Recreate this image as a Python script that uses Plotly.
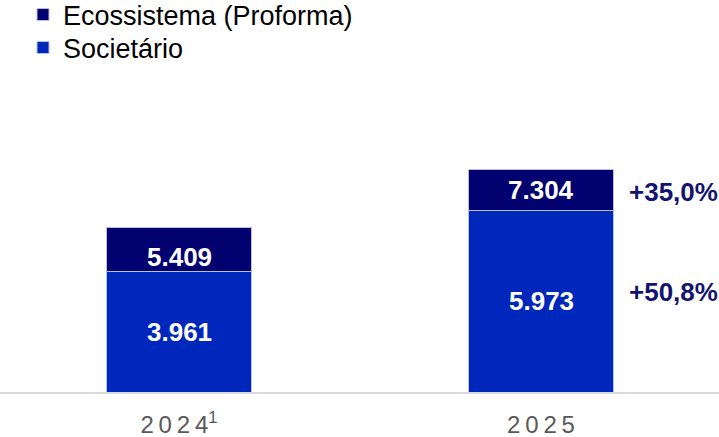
import plotly.graph_objects as go

# Data (values shown with "." as thousands separator)
years = ["2024", "2025"]
year_labels = ["2\u20090\u20092\u20094<sup>1</sup>", "2\u20090\u20092\u20095"]
societario = [3961, 5973]
ecossistema_total = [5409, 7304]

# Stacked segment on top of Societário
ecossistema_extra = [t - s for t, s in zip(ecossistema_total, societario)]

DARK = "#03016F"
BLUE = "#0027BC"
EDGE = "#B8C0E0"
FONT = "Liberation Sans, Arial, sans-serif"
idx = list(range(len(years)))


def fmt_thousands(v):
    return f"{v:,}".replace(",", ".")


def fmt_growth(new, old):
    return "+" + f"{(new / old - 1) * 100:.1f}".replace(".", ",") + "%"


fig = go.Figure()
fig.add_trace(go.Bar(
    x=idx, y=societario, name="Societário",
    marker=dict(color=BLUE, line=dict(color=EDGE, width=1)),
    width=0.40, hoverinfo="skip", legend="legend2",
))
fig.add_trace(go.Bar(
    x=idx, y=ecossistema_extra, name="Ecossistema (Proforma)",
    marker=dict(color=DARK, line=dict(color=EDGE, width=1)),
    width=0.40, hoverinfo="skip", legend="legend",
))

annotations = []
label_font = dict(family=FONT, size=26, color="white")
top_shift = [-8, 0]
for i in idx:
    annotations.append(dict(
        x=i, y=societario[i] / 2, text=f"<b>{fmt_thousands(societario[i])}</b>",
        showarrow=False, font=label_font, xref="x", yref="y",
    ))
    annotations.append(dict(
        x=i, y=(societario[i] + ecossistema_total[i]) / 2,
        text=f"<b>{fmt_thousands(ecossistema_total[i])}</b>",
        showarrow=False, font=label_font, xref="x", yref="y", yshift=top_shift[i],
    ))

growth_font = dict(family=FONT, size=26, color="#14146E")
annotations.append(dict(
    x=1, y=(societario[1] + ecossistema_total[1]) / 2,
    text=f"<b>{fmt_growth(ecossistema_total[1], ecossistema_total[0])}</b>",
    showarrow=False, font=growth_font, xref="x", yref="y",
    xanchor="left", xshift=86, yshift=-2,
))
annotations.append(dict(
    x=1, y=societario[1] / 2,
    text=f"<b>{fmt_growth(societario[1], societario[0])}</b>",
    showarrow=False, font=growth_font, xref="x", yref="y",
    xanchor="left", xshift=86, yshift=9,
))

legend_style = dict(
    x=0.032, xanchor="left", yanchor="middle", yref="container",
    font=dict(family=FONT, size=27, color="black"),
    bgcolor="rgba(0,0,0,0)", itemclick=False, itemdoubleclick=False,
)

fig.update_layout(
    width=719, height=437,
    margin=dict(l=0, r=0, t=0, b=45, autoexpand=False),
    barmode="stack",
    plot_bgcolor="white", paper_bgcolor="white",
    font=dict(family=FONT),
    showlegend=True,
    legend=dict(y=1 - 15 / 437, **legend_style),
    legend2=dict(y=1 - 48 / 437, **legend_style),
    annotations=annotations,
    xaxis=dict(
        range=[-0.4945, 1.4917],
        tickmode="array", tickvals=idx, ticktext=year_labels,
        showline=True, linecolor="#D9D9D9", linewidth=2,
        ticks="", showgrid=False, zeroline=False,
        tickfont=dict(family=FONT, size=24, color="#595959"),
        ticklabelstandoff=10, automargin=False,
    ),
    yaxis=dict(
        range=[0, 12870], visible=False, showgrid=False, zeroline=False,
        automargin=False,
    ),
)

fig.write_html("out.html")
